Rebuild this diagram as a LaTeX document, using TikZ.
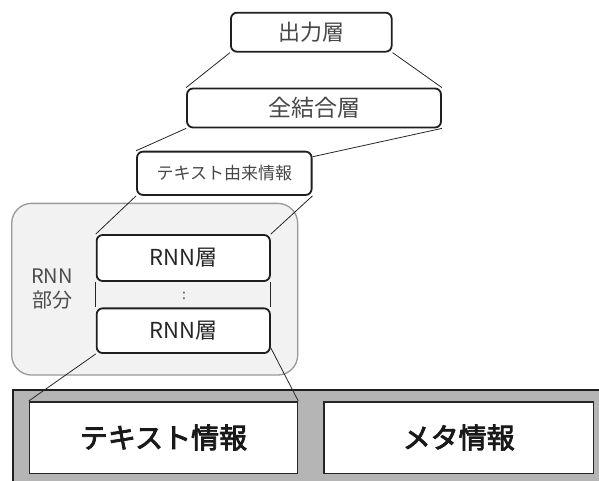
\documentclass[tikz,border=0pt]{standalone}
\usepackage{fontspec}
\setmainfont{Noto Sans CJK JP}
\newfontfamily\cjkbolder{Noto Sans CJK JP}[FakeBold=3]
\begin{document}
\begin{tikzpicture}[x=1pt,y=-1pt,
  layerbox/.style={draw=black!88,line width=1.8pt,rounded corners=6pt,fill=white,
    inner sep=0pt,text=black!72},
  conn/.style={draw=black!85,line width=0.8pt},
  inbox/.style={draw=black!85,line width=1.5pt,fill=white,inner sep=0pt,
    minimum width=268pt,minimum height=71.5pt,font=\cjkbolder\fontsize{28}{30}\selectfont,text=black!90}]
\useasboundingbox (0,0) rectangle (599,481);
% background group and bar
\node[draw=black!40,line width=1.3pt,fill=black!5,rounded corners=20pt,
  minimum width=286pt,minimum height=171.7pt,inner sep=0pt] (grp) at (154.7,289.2) {};
\node[draw=black!88,line width=1.8pt,fill=black!29,minimum width=588pt,
  minimum height=110pt,inner sep=0pt,anchor=north west] (bar) at (11.7,389.3) {};
% layer boxes
\node[layerbox,minimum width=160.7pt,minimum height=39pt,font=\fontsize{22}{24}\selectfont] (out) at (311.3,32.2) {出力層};
\node[layerbox,minimum width=254pt,minimum height=39pt,font=\fontsize{23}{25}\selectfont] (fc) at (314,108) {全結合層};
\node[layerbox,minimum width=174.6pt,minimum height=43.3pt,font=\fontsize{17}{20}\selectfont] (txo) at (224.3,173.3) {テキスト由来情報};
\node[layerbox,minimum width=173.3pt,minimum height=46pt,font=\fontsize{22}{24}\selectfont,text=black!85] (rnn1) at (183.3,258) {RNN層};
\node[layerbox,minimum width=173.3pt,minimum height=44.7pt,font=\fontsize{22}{24}\selectfont,text=black!85] (rnn2) at (183.3,330.7) {RNN層};
\node[font=\fontsize{14}{14}\selectfont,text=black!70,inner sep=0pt] (dots) at (184,296) {:};
\node[align=center,font=\fontsize{20}{24}\selectfont,text=black!70,inner sep=0pt] (lbl) at (52,289) {RNN\\部分};
\node[inbox] (txt) at (163.5,437.5) {テキスト情報};
\node[inbox,minimum width=269.3pt] (meta) at (458.7,437.5) {メタ情報};
% connectors
\draw[conn] (out.south west) -- (fc.north west);
\draw[conn] (out.south east) -- (fc.north east);
\draw[conn] (fc.south west) -- (txo.north west);
\draw[conn] (fc.south east) -- ([yshift=-6pt]txo.north east);
\draw[conn] (txo.south west) -- (rnn1.north west);
\draw[conn] (txo.south east) -- (rnn1.north east);
\draw[conn] (rnn1.south west) -- (rnn2.north west);
\draw[conn] (rnn1.south east) -- (rnn2.north east);
\draw[conn] (rnn2.south west) -- (txt.north west);
\draw[conn] ([yshift=6pt]rnn2.south east) -- (txt.north east);
\end{tikzpicture}
\end{document}
